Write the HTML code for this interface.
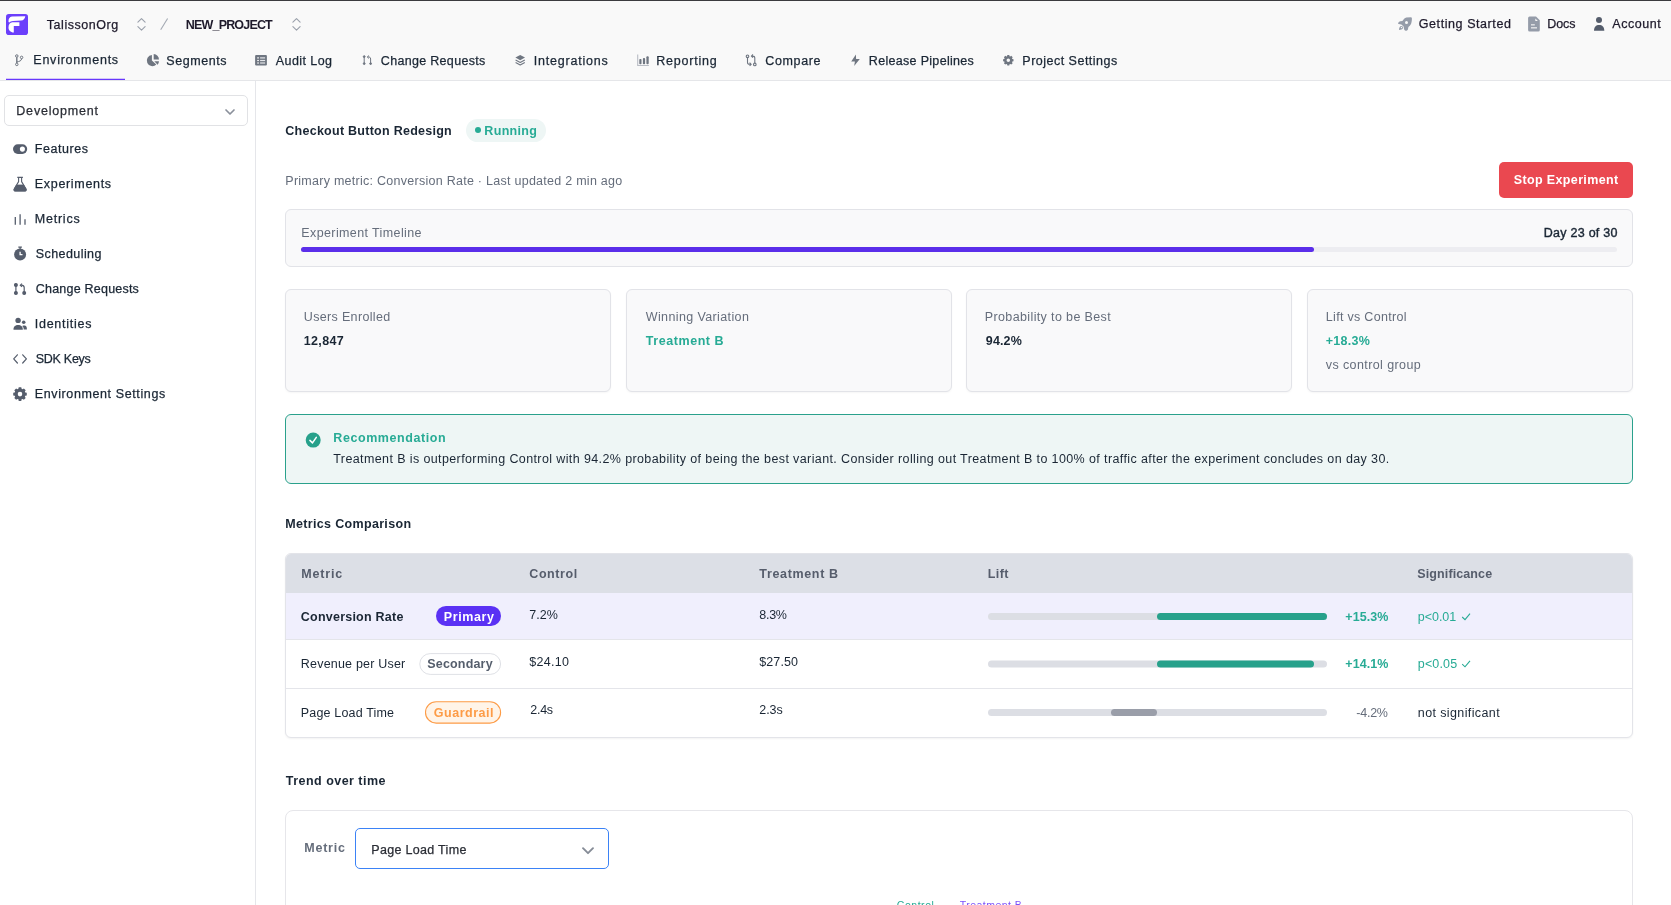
<!DOCTYPE html>
<html lang="en"><head><meta charset="utf-8"><title>Checkout Button Redesign - Experiment</title>
<style>
*{box-sizing:border-box}
html,body{margin:0;padding:0}
body{background:#fff;font-family:"Liberation Sans",sans-serif;font-size:13px;color:#1a2634}
.t{position:absolute;white-space:pre;line-height:1}
.b{position:absolute}
svg{position:absolute;overflow:visible}
.card{border:1px solid #e2e3e8;border-radius:6px;background:#f9f9fa;box-shadow:0 1px 2px rgba(0,0,0,0.04)}
#txt{position:absolute;left:0;top:0;width:1671px;height:905px;will-change:transform;transform:translateZ(0)}
#page{position:relative;width:1671px;height:905px;overflow:hidden;background:#fff}

</style></head>
<body>
<div id="page">
<!-- header -->
<div class="b" style="left:0;top:0;width:1671px;height:80px;background:#f9f9f9"></div>
<div class="b" style="left:0;top:0;width:1671px;height:1px;background:#3b3b3f"></div>
<div class="b" style="left:0;top:80px;width:1671px;height:1px;background:#e5e6e9"></div>
<div class="b" style="left:6px;top:79px;width:119px;height:1px;background:#6837fc"></div><div class="b" style="left:6px;top:78px;width:119px;height:1px;background:#6837fc;opacity:.25"></div>
<!-- sidebar border -->
<div class="b" style="left:255px;top:81px;width:1px;height:824px;background:#e5e6ea"></div>
<!-- env dropdown -->
<div class="b" style="left:4px;top:95px;width:244px;height:31px;border:1px solid #e1e2e5;border-radius:5px;background:#fff"></div>
<!-- running badge -->
<div class="b" style="left:466px;top:119px;width:80px;height:23px;border-radius:12px;background:#eef6f5"></div>
<div class="b" style="left:475px;top:127px;width:6px;height:6px;border-radius:3px;background:#27ab95"></div>
<!-- stop button -->
<div class="b" style="left:1499px;top:162px;width:134px;height:36px;border-radius:5px;background:#ea4850"></div>
<!-- timeline -->
<div class="b" style="left:285px;top:209px;width:1348px;height:58px;border:1px solid #e2e3e8;border-radius:6px;background:#f9f9fa"></div>
<div class="b" style="left:301px;top:247px;width:1316px;height:5px;border-radius:2.5px;background:#ededf1"></div>
<div class="b" style="left:301px;top:247px;width:1013px;height:5px;border-radius:2.5px;background:#5b2eea"></div>
<!-- stat cards -->
<div class="b card" style="left:285px;top:289px;width:326px;height:103px"></div>
<div class="b card" style="left:626px;top:289px;width:326px;height:103px"></div>
<div class="b card" style="left:966px;top:289px;width:326px;height:103px"></div>
<div class="b card" style="left:1307px;top:289px;width:326px;height:103px"></div>
<!-- recommendation -->
<div class="b" style="left:285px;top:414px;width:1348px;height:70px;border:1px solid #2aa18c;border-radius:6px;background:#eef6f5"></div>
<!-- table -->
<div class="b" style="left:285px;top:553px;width:1348px;height:185px;border:1px solid #e3e4e9;border-radius:6px;background:#fff;overflow:hidden;box-shadow:0 1px 2px rgba(0,0,0,0.05)">
  <div class="b" style="left:-1px;top:-1px;width:1348px;height:40px;background:#dcdfe6"></div>
  <div class="b" style="left:-1px;top:39px;width:1348px;height:47px;background:#f0effd"></div>
  <div class="b" style="left:-1px;top:85px;width:1348px;height:1px;background:#e4e5ea"></div>
  <div class="b" style="left:-1px;top:134px;width:1348px;height:1px;background:#e4e5ea"></div>
</div>
<!-- trend chart box -->
<div class="b" style="left:285px;top:810px;width:1348px;height:120px;border:1px solid #e6e6ea;border-radius:8px;background:#fff"></div>
<div class="b" style="left:355px;top:828px;width:254px;height:41px;border:1px solid #3b82f6;border-radius:5px;background:#fff"></div>
<svg style="left:582px;top:846.8px" width="12" height="8" viewBox="0 0 12 8"><path d="M1 1.2 L6 6.2 L11 1.2" fill="none" stroke="#868c97" stroke-width="1.9" stroke-linecap="round" stroke-linejoin="round"/></svg>
<!-- sidebar dropdown chevron -->
<svg style="left:225px;top:108.5px" width="10" height="7" viewBox="0 0 10 7"><path d="M1 1 L5 5 L9 1" fill="none" stroke="#8a909b" stroke-width="1.7" stroke-linecap="round" stroke-linejoin="round"/></svg>
<svg style="left:0;top:0" width="1671" height="905" viewBox="0 0 1671 905">
<rect x="6" y="14" width="22" height="21" rx="2.8" fill="#6b3ffb"/>
<path d="M8.5 22.1 C8.3 19 9.5 16.8 12 16.6 L25.3 16.3 C24.8 18.8 23.5 20.5 21.2 20.6 L13 20.9 C11.2 21 10 21.6 9.4 22.5 Z M8.5 27.4 C8.5 24.5 10 22.5 12.4 22.3 L19.4 22.3 L19.4 26 L13.8 26 L13.8 32.4 C10.5 32.4 8.5 30 8.5 27.4 Z" fill="#fff"/>
<path d="M137.9 22.2 L141.5 18.599999999999998 L145.1 22.2 M137.9 26.599999999999998 L141.5 30.2 L145.1 26.599999999999998" fill="none" stroke="#9aa0ab" stroke-width="1.1" stroke-linecap="round" stroke-linejoin="round"/>
<path d="M292.9 22.2 L296.5 18.599999999999998 L300.1 22.2 M292.9 26.599999999999998 L296.5 30.2 L300.1 26.599999999999998" fill="none" stroke="#9aa0ab" stroke-width="1.1" stroke-linecap="round" stroke-linejoin="round"/>
<path d="M160.7 29.8 L167.6 18.5" stroke="#a3a9b3" stroke-width="1.1" fill="none"/>
<g fill="none" stroke="#6f7681" stroke-width="1"><circle cx="16.8" cy="56" r="1.25"/><circle cx="16.8" cy="64.4" r="1.25"/><circle cx="21.6" cy="57.4" r="1.25"/><path d="M16.8 57.3 L16.8 63.1" stroke-width="1.4"/><path d="M21.6 58.7 C21.6 61 19 61.4 16.9 62"/></g>
<g fill="#6f7681"><path d="M151.9 55 A5.6 5.6 0 1 0 156.3 64.6 L151.9 60.4 Z"/><path d="M153.7 59.4 L153.7 54.1 A5.3 5.3 0 0 1 159 59.4 Z"/><path d="M154.3 61.3 L159 61.3 A5.3 5.3 0 0 1 157.6 64.7 Z"/></g>
<rect x="255.1" y="54.9" width="11.8" height="10.6" rx="1" fill="#6f7681"/>
<rect x="257.2" y="57.3" width="1.7" height="1.2" fill="#f9f9f9"/><rect x="260.1" y="57.3" width="5" height="1.2" fill="#e4e6ea"/>
<rect x="257.2" y="59.9" width="1.7" height="1.2" fill="#f9f9f9"/><rect x="260.1" y="59.9" width="5" height="1.2" fill="#e4e6ea"/>
<rect x="257.2" y="62.4" width="1.7" height="1.2" fill="#f9f9f9"/><rect x="260.1" y="62.4" width="5" height="1.2" fill="#e4e6ea"/>
<g fill="#6f7681" stroke="#6f7681" stroke-width="1"><circle cx="364.2" cy="56.6" r="0.9"/><circle cx="364.2" cy="63.6" r="0.9"/><circle cx="370.6" cy="63.6" r="0.9"/><path d="M364.2 56.6 L364.2 63.6 M370.6 63.6 L370.6 59 C370.6 57.4 369.8 56.9 368 56.9" fill="none"/><path d="M368.8 55.6 L367.2 57 L368.8 58.4" fill="none"/></g>
<g fill="#6f7681"><path d="M520.2 55.1 L525 57.6 L520.2 60.2 L515.4 57.6 Z"/></g><g fill="none" stroke="#6f7681" stroke-width="1.1" stroke-linejoin="round"><path d="M515.6 60.1 L520.2 62.5 L524.8 60.1"/><path d="M515.6 62.6 L520.2 65 L524.8 62.6"/></g>
<path d="M637.7 54.5 L637.7 65.5 L648.9 65.5" fill="none" stroke="#b9bdc5" stroke-width="1.1"/>
<g fill="#6f7681"><rect x="639.3" y="59" width="2.2" height="5.2" rx="0.8"/><rect x="642.9" y="58.1" width="2.2" height="6.1" rx="0.8"/><rect x="646.4" y="56.3" width="2.3" height="7.9" rx="0.9"/></g>
<g fill="none" stroke="#6f7681" stroke-width="1.1" stroke-linejoin="round"><circle cx="747.5" cy="56.3" r="1.3"/><circle cx="754.8" cy="64.4" r="1.3"/><path d="M747.5 57.7 L747.5 62.4 C747.5 63.8 748.3 64.3 749.6 64.3 L751 64.3 M749.6 62.7 L751.2 64.3 L749.6 65.9"/><path d="M754.8 63 L754.8 58 C754.8 56.6 754 56.1 752.7 56.1 L751.6 56.1 M753 54.5 L751.4 56.1 L753 57.7"/></g>
<path d="M855.9 54.6 L851.2 61.4 L854.9 61.4 L854.2 66 L859.8 59 L856.1 59 Z" fill="#6f7681"/>
<path d="M1012.32 58.97 L1013.51 59.22 L1013.51 61.18 L1012.32 61.43 L1012.01 62.17 L1012.68 63.19 L1011.29 64.58 L1010.27 63.91 L1009.53 64.22 L1009.28 65.41 L1007.32 65.41 L1007.07 64.22 L1006.33 63.91 L1005.31 64.58 L1003.92 63.19 L1004.59 62.17 L1004.28 61.43 L1003.09 61.18 L1003.09 59.22 L1004.28 58.97 L1004.59 58.23 L1003.92 57.21 L1005.31 55.82 L1006.33 56.49 L1007.07 56.18 L1007.32 54.99 L1009.28 54.99 L1009.53 56.18 L1010.27 56.49 L1011.29 55.82 L1012.68 57.21 L1012.01 58.23 Z M1010.05 60.20 A1.75 1.75 0 1 0 1006.55 60.20 A1.75 1.75 0 1 0 1010.05 60.20 Z" fill="#6f7681" fill-rule="evenodd"/>
<g fill="#959ca9"><path d="M1402.4 21.1 C1403.4 19.2 1404.8 17.9 1406.3 17.4 L1411 17.2 C1411.7 17.3 1412 17.9 1411.9 18.6 C1411.9 21 1411.5 22.5 1411.2 23.6 C1410.6 25.2 1409.6 26.3 1408.4 27.1 L1407.9 29.4 C1407.6 30.2 1406.2 31 1405.6 30.8 C1405 30.6 1404.3 29.8 1404.1 29.2 L1403.6 26.6 L1401.4 24.4 L1398.6 24 C1398 23.8 1398 23.2 1398.3 22.8 C1398.8 22 1399.5 21.5 1400.2 21.3 Z"/><path d="M1401 26 C1402.2 25.6 1403.4 26.8 1403 28 C1402.5 29.4 1400.6 29.9 1399 29.9 C1399 28.3 1399.6 26.5 1401 26 Z"/></g><circle cx="1406.5" cy="22.5" r="1.5" fill="#f9f9f9"/><circle cx="1401.5" cy="27.6" r="0.75" fill="#f9f9f9"/>
<path d="M1529.6 16.5 L1536 16.5 L1539.8 20.3 L1539.8 30 A1.5 1.5 0 0 1 1538.3 31.5 L1529.6 31.5 A1.5 1.5 0 0 1 1528.1 30 L1528.1 18 A1.5 1.5 0 0 1 1529.6 16.5 Z" fill="#959ca9"/><path d="M1535.3 18.4 L1535.3 21 L1537.9 21 Z" fill="#f9f9f9"/><rect x="1531" y="24.3" width="3.8" height="1.1" fill="#f9f9f9"/><rect x="1531" y="27.3" width="6" height="1.1" fill="#f9f9f9"/>
<g fill="#555d6c"><circle cx="1599" cy="20" r="3"/><path d="M1594 30.8 C1594 27 1596 25 1599.1 25 C1602.3 25 1604.3 27 1604.3 30.8 Z"/></g>
<rect x="13" y="144.3" width="14.2" height="9.6" rx="4.8" fill="#555d6c"/><circle cx="22.4" cy="149.1" r="2.55" fill="#fff"/>
<path d="M17.3 177.4 L22.9 177.4 M18.6 177.4 L18.6 181.6 L14.2 189 C13.7 190 14.3 191 15.3 191 L24.9 191 C25.9 191 26.5 190 26 189 L21.6 181.6 L21.6 177.4" fill="none" stroke="#555d6c" stroke-width="1.1" stroke-linejoin="round"/><path d="M16.5 185 L23.7 185 L26 189 C26.5 190 25.9 191 24.9 191 L15.3 191 C14.3 191 13.7 190 14.2 189 Z" fill="#555d6c" stroke="#555d6c" stroke-width="0.8"/>
<g stroke="#555d6c" stroke-width="1.3" fill="none"><path d="M15.3 217 L15.3 224.8"/><path d="M20.1 214.3 L20.1 224.8"/><path d="M25 219.3 L25 224.8"/></g>
<circle cx="20.1" cy="254.4" r="6" fill="#555d6c"/><path d="M18.3 247.2 L21.9 247.2 M20.1 247.2 L20.1 249" stroke="#555d6c" stroke-width="1.2" fill="none"/><path d="M20.1 251.8 L20.1 254.6 L22.5 254.6" stroke="#fff" stroke-width="1.3" fill="none"/>
<g fill="#555d6c" stroke="#555d6c" stroke-width="1.2"><circle cx="15.9" cy="285" r="1.4"/><circle cx="15.9" cy="293" r="1.4"/><circle cx="24.2" cy="293" r="1.4"/><path d="M15.9 285 L15.9 293 M24.2 293 L24.2 287.6 C24.2 285.7 23.2 285.2 21.2 285.2" fill="none"/><path d="M22 283.6 L20.3 285.2 L22 286.8" fill="none"/></g>
<g fill="#555d6c"><circle cx="18.1" cy="320.4" r="2.7"/><path d="M13.5 329.7 C13.3 326.6 15.3 325 18.1 325 C21 325 23 326.6 22.8 329.7 Z"/><circle cx="23.7" cy="322.3" r="1.8"/><path d="M22.2 326 C23 325.7 23.8 325.6 24.4 325.6 C26.2 325.6 27 327 26.9 329.5 L23.7 329.5 C23.8 328 23.3 326.8 22.2 326 Z"/></g>
<path d="M17.4 354.8 L13.7 358.9 L17.4 363 M22.7 354.8 L26.4 358.9 L22.7 363" fill="none" stroke="#555d6c" stroke-width="1.2" stroke-linecap="round" stroke-linejoin="round"/>
<path d="M25.26 392.49 L26.78 392.82 L26.78 395.38 L25.26 395.71 L24.86 396.68 L25.70 397.99 L23.89 399.80 L22.58 398.96 L21.61 399.36 L21.28 400.88 L18.72 400.88 L18.39 399.36 L17.42 398.96 L16.11 399.80 L14.30 397.99 L15.14 396.68 L14.74 395.71 L13.22 395.38 L13.22 392.82 L14.74 392.49 L15.14 391.52 L14.30 390.21 L16.11 388.40 L17.42 389.24 L18.39 388.84 L18.72 387.32 L21.28 387.32 L21.61 388.84 L22.58 389.24 L23.89 388.40 L25.70 390.21 L24.86 391.52 Z M22.30 394.10 A2.3 2.3 0 1 0 17.70 394.10 A2.3 2.3 0 1 0 22.30 394.10 Z" fill="#555d6c" fill-rule="evenodd"/>
<rect x="436" y="605.9" width="65" height="20" rx="10" fill="#5a31f4"/>
<rect x="419.8" y="653.6" width="80.8" height="20.8" rx="10.4" fill="#fff" stroke="#dfe1e6" stroke-width="1"/>
<rect x="425.5" y="701.7" width="75.1" height="21.4" rx="10.7" fill="#fff4e8" stroke="#fd9b46" stroke-width="1.1"/>
<rect x="988" y="612.9" width="339" height="7" rx="3.5" fill="#dcdee4"/>
<rect x="1157" y="612.9" width="170" height="7" rx="3.5" fill="#27a18b"/>
<rect x="988" y="660.5" width="339" height="7" rx="3.5" fill="#dcdee4"/>
<rect x="1157" y="660.5" width="157" height="7" rx="3.5" fill="#27a18b"/>
<rect x="988" y="709.1" width="339" height="7" rx="3.5" fill="#dcdee4"/>
<rect x="1111" y="709.1" width="46" height="7" rx="3.5" fill="#9a9ea9"/>
<path d="M1462.2 617.0 L1465 619.6 L1470 613.6" fill="none" stroke="#27ab95" stroke-width="1.1"/>
<path d="M1462.2 664.2 L1465 666.8 L1470 660.8" fill="none" stroke="#27ab95" stroke-width="1.1"/>
<circle cx="313.2" cy="440.1" r="7.5" fill="#27a18b"/><path d="M309.9 440.4 L312.5 442.9 L316.3 437.4" fill="none" stroke="#fff" stroke-width="1.5" stroke-linecap="round" stroke-linejoin="round"/>
</svg>
<div id="txt">
<span class="t" style="left:46.80px;top:19px;font-size:12.5px;font-weight:400;color:#1e1a2b;letter-spacing:0.540px;-webkit-text-stroke:0.25px currentColor;">TalissonOrg</span>
<span class="t" style="left:185.80px;top:19px;font-size:12.5px;font-weight:700;color:#1e1a2b;letter-spacing:-0.820px;">NEW_PROJECT</span>
<span class="t" style="left:33.30px;top:54px;font-size:12.5px;font-weight:400;color:#1a2634;letter-spacing:0.764px;-webkit-text-stroke:0.25px currentColor;">Environments</span>
<span class="t" style="left:166.30px;top:55px;font-size:12.5px;font-weight:400;color:#1a2634;letter-spacing:0.571px;-webkit-text-stroke:0.25px currentColor;">Segments</span>
<span class="t" style="left:275.80px;top:55px;font-size:12.5px;font-weight:400;color:#1a2634;letter-spacing:0.425px;-webkit-text-stroke:0.25px currentColor;">Audit Log</span>
<span class="t" style="left:380.80px;top:55px;font-size:12.5px;font-weight:400;color:#1a2634;letter-spacing:0.314px;-webkit-text-stroke:0.25px currentColor;">Change Requests</span>
<span class="t" style="left:533.80px;top:55px;font-size:12.5px;font-weight:400;color:#1a2634;letter-spacing:0.782px;-webkit-text-stroke:0.25px currentColor;">Integrations</span>
<span class="t" style="left:656.30px;top:55px;font-size:12.5px;font-weight:400;color:#1a2634;letter-spacing:0.775px;-webkit-text-stroke:0.25px currentColor;">Reporting</span>
<span class="t" style="left:765.30px;top:55px;font-size:12.5px;font-weight:400;color:#1a2634;letter-spacing:0.633px;-webkit-text-stroke:0.25px currentColor;">Compare</span>
<span class="t" style="left:868.80px;top:55px;font-size:12.5px;font-weight:400;color:#1a2634;letter-spacing:0.312px;-webkit-text-stroke:0.25px currentColor;">Release Pipelines</span>
<span class="t" style="left:1022.30px;top:55px;font-size:12.5px;font-weight:400;color:#1a2634;letter-spacing:0.493px;-webkit-text-stroke:0.25px currentColor;">Project Settings</span>
<span class="t" style="left:1418.80px;top:18px;font-size:12.5px;font-weight:400;color:#1e1a2b;letter-spacing:0.571px;-webkit-text-stroke:0.25px currentColor;">Getting Started</span>
<span class="t" style="left:1547.30px;top:18px;font-size:12.5px;font-weight:400;color:#1e1a2b;letter-spacing:-0.133px;-webkit-text-stroke:0.25px currentColor;">Docs</span>
<span class="t" style="left:1612.30px;top:18px;font-size:12.5px;font-weight:400;color:#1e1a2b;letter-spacing:0.533px;-webkit-text-stroke:0.25px currentColor;">Account</span>
<span class="t" style="left:16.30px;top:105px;font-size:12.5px;font-weight:400;color:#2a2d35;letter-spacing:0.800px;-webkit-text-stroke:0.25px currentColor;">Development</span>
<span class="t" style="left:34.80px;top:143px;font-size:12.5px;font-weight:400;color:#1a2634;letter-spacing:0.543px;-webkit-text-stroke:0.25px currentColor;">Features</span>
<span class="t" style="left:34.80px;top:178px;font-size:12.5px;font-weight:400;color:#1a2634;letter-spacing:0.680px;-webkit-text-stroke:0.25px currentColor;">Experiments</span>
<span class="t" style="left:34.80px;top:213px;font-size:12.5px;font-weight:400;color:#1a2634;letter-spacing:0.767px;-webkit-text-stroke:0.25px currentColor;">Metrics</span>
<span class="t" style="left:35.80px;top:248px;font-size:12.5px;font-weight:400;color:#1a2634;letter-spacing:0.422px;-webkit-text-stroke:0.25px currentColor;">Scheduling</span>
<span class="t" style="left:35.80px;top:283px;font-size:12.5px;font-weight:400;color:#1a2634;letter-spacing:0.214px;-webkit-text-stroke:0.25px currentColor;">Change Requests</span>
<span class="t" style="left:34.80px;top:318px;font-size:12.5px;font-weight:400;color:#1a2634;letter-spacing:0.733px;-webkit-text-stroke:0.25px currentColor;">Identities</span>
<span class="t" style="left:35.80px;top:353px;font-size:12.5px;font-weight:400;color:#1a2634;letter-spacing:-0.286px;-webkit-text-stroke:0.25px currentColor;">SDK Keys</span>
<span class="t" style="left:34.80px;top:388px;font-size:12.5px;font-weight:400;color:#1a2634;letter-spacing:0.611px;-webkit-text-stroke:0.25px currentColor;">Environment Settings</span>
<span class="t" style="left:285.30px;top:125px;font-size:12.5px;font-weight:700;color:#1a2634;letter-spacing:0.261px;">Checkout Button Redesign</span>
<span class="t" style="left:484.30px;top:125px;font-size:12.5px;font-weight:700;color:#27ab95;letter-spacing:0.333px;">Running</span>
<span class="t" style="left:285.30px;top:175px;font-size:12.5px;font-weight:400;color:#656d7b;letter-spacing:0.265px;">Primary metric: Conversion Rate · Last updated 2 min ago</span>
<span class="t" style="left:1513.80px;top:174px;font-size:12.5px;font-weight:700;color:#fff;letter-spacing:0.357px;">Stop Experiment</span>
<span class="t" style="left:301.30px;top:227px;font-size:12.5px;font-weight:400;color:#656d7b;letter-spacing:0.389px;">Experiment Timeline</span>
<span class="t" style="left:1543.80px;top:227px;font-size:12.5px;font-weight:400;color:#1a2634;letter-spacing:0.255px;-webkit-text-stroke:0.4px currentColor;">Day 23 of 30</span>
<span class="t" style="left:303.80px;top:311px;font-size:12.5px;font-weight:400;color:#656d7b;letter-spacing:0.338px;">Users Enrolled</span>
<span class="t" style="left:303.80px;top:335px;font-size:12.5px;font-weight:700;color:#1a2634;letter-spacing:0.320px;">12,847</span>
<span class="t" style="left:645.80px;top:311px;font-size:12.5px;font-weight:400;color:#656d7b;letter-spacing:0.375px;">Winning Variation</span>
<span class="t" style="left:645.80px;top:335px;font-size:12.5px;font-weight:700;color:#27ab95;letter-spacing:0.560px;">Treatment B</span>
<span class="t" style="left:984.80px;top:311px;font-size:12.5px;font-weight:400;color:#656d7b;letter-spacing:0.371px;">Probability to be Best</span>
<span class="t" style="left:985.80px;top:335px;font-size:12.5px;font-weight:700;color:#1a2634;letter-spacing:0.150px;">94.2%</span>
<span class="t" style="left:1325.80px;top:311px;font-size:12.5px;font-weight:400;color:#656d7b;letter-spacing:0.300px;">Lift vs Control</span>
<span class="t" style="left:1325.80px;top:335px;font-size:12.5px;font-weight:700;color:#27ab95;letter-spacing:0.240px;">+18.3%</span>
<span class="t" style="left:1325.80px;top:359px;font-size:12.5px;font-weight:400;color:#656d7b;letter-spacing:0.400px;">vs control group</span>
<span class="t" style="left:333.30px;top:432px;font-size:12.5px;font-weight:700;color:#27ab95;letter-spacing:0.569px;">Recommendation</span>
<span class="t" style="left:333.30px;top:453px;font-size:12.5px;font-weight:400;color:#1a2634;letter-spacing:0.387px;">Treatment B is outperforming Control with 94.2% probability of being the best variant. Consider rolling out Treatment B to 100% of traffic after the experiment concludes on day 30.</span>
<span class="t" style="left:285.30px;top:518px;font-size:12.5px;font-weight:700;color:#1a2634;letter-spacing:0.329px;">Metrics Comparison</span>
<span class="t" style="left:301.30px;top:568px;font-size:12.5px;font-weight:700;color:#565d6c;letter-spacing:0.800px;">Metric</span>
<span class="t" style="left:529.30px;top:568px;font-size:12.5px;font-weight:700;color:#565d6c;letter-spacing:0.567px;">Control</span>
<span class="t" style="left:759.30px;top:568px;font-size:12.5px;font-weight:700;color:#565d6c;letter-spacing:0.660px;">Treatment B</span>
<span class="t" style="left:987.80px;top:568px;font-size:12.5px;font-weight:700;color:#565d6c;letter-spacing:0.400px;">Lift</span>
<span class="t" style="left:1417.30px;top:568px;font-size:12.5px;font-weight:700;color:#565d6c;letter-spacing:0.109px;">Significance</span>
<span class="t" style="left:300.80px;top:611px;font-size:12.5px;font-weight:700;color:#1a2634;letter-spacing:0.229px;">Conversion Rate</span>
<span class="t" style="left:443.80px;top:611px;font-size:12.5px;font-weight:700;color:#fff;letter-spacing:0.600px;">Primary</span>
<span class="t" style="left:529.30px;top:609px;font-size:12.5px;font-weight:400;color:#1a2634;letter-spacing:0.067px;">7.2%</span>
<span class="t" style="left:759.30px;top:609px;font-size:12.5px;font-weight:400;color:#1a2634;letter-spacing:-0.267px;">8.3%</span>
<span class="t" style="left:1345.30px;top:611px;font-size:12.5px;font-weight:700;color:#27ab95;letter-spacing:0.080px;">+15.3%</span>
<span class="t" style="left:1417.80px;top:611px;font-size:12.5px;font-weight:400;color:#27ab95;letter-spacing:-0.040px;">p&lt;0.01</span>
<span class="t" style="left:300.80px;top:658px;font-size:12.5px;font-weight:400;color:#1a2634;letter-spacing:0.200px;">Revenue per User</span>
<span class="t" style="left:427.30px;top:658px;font-size:12.5px;font-weight:700;color:#555e6c;letter-spacing:0.175px;">Secondary</span>
<span class="t" style="left:529.30px;top:656px;font-size:12.5px;font-weight:400;color:#1a2634;letter-spacing:0.280px;">$24.10</span>
<span class="t" style="left:759.30px;top:656px;font-size:12.5px;font-weight:400;color:#1a2634;letter-spacing:0.080px;">$27.50</span>
<span class="t" style="left:1345.30px;top:658px;font-size:12.5px;font-weight:700;color:#27ab95;letter-spacing:0.080px;">+14.1%</span>
<span class="t" style="left:1417.80px;top:658px;font-size:12.5px;font-weight:400;color:#27ab95;letter-spacing:0.160px;">p&lt;0.05</span>
<span class="t" style="left:300.80px;top:707px;font-size:12.5px;font-weight:400;color:#1a2634;letter-spacing:0.169px;">Page Load Time</span>
<span class="t" style="left:433.80px;top:707px;font-size:12.5px;font-weight:700;color:#fd9b46;letter-spacing:0.525px;">Guardrail</span>
<span class="t" style="left:530.30px;top:704px;font-size:12.5px;font-weight:400;color:#1a2634;letter-spacing:-0.267px;">2.4s</span>
<span class="t" style="left:759.30px;top:704px;font-size:12.5px;font-weight:400;color:#1a2634;letter-spacing:-0.067px;">2.3s</span>
<span class="t" style="left:1356.30px;top:707px;font-size:12.5px;font-weight:400;color:#656d7b;letter-spacing:-0.250px;">-4.2%</span>
<span class="t" style="left:1417.80px;top:707px;font-size:12.5px;font-weight:400;color:#1a2634;letter-spacing:0.386px;">not significant</span>
<span class="t" style="left:285.80px;top:775px;font-size:12.5px;font-weight:700;color:#1a2634;letter-spacing:0.471px;">Trend over time</span>
<span class="t" style="left:304.30px;top:842px;font-size:12.5px;font-weight:700;color:#656d7b;letter-spacing:0.760px;">Metric</span>
<span class="t" style="left:371.30px;top:844px;font-size:12.5px;font-weight:400;color:#2a2d35;letter-spacing:0.308px;-webkit-text-stroke:0.25px currentColor;">Page Load Time</span>
<span class="t" style="left:896.80px;top:900px;font-size:10.5px;font-weight:400;color:#27ab95;letter-spacing:0.533px;">Control</span>
<span class="t" style="left:959.80px;top:900px;font-size:10.5px;font-weight:400;color:#7b51fb;letter-spacing:0.460px;">Treatment B</span>
</div>
</div>
</body></html>
